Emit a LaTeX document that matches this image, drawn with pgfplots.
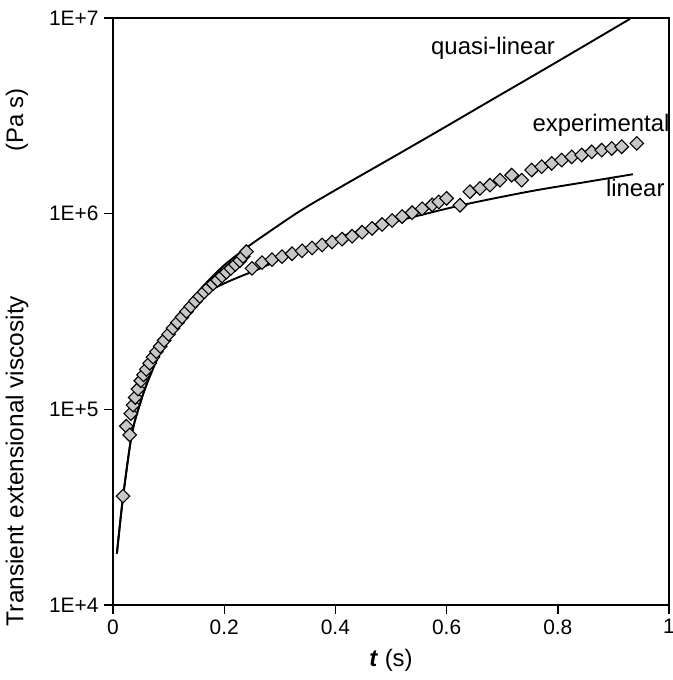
\documentclass[border=0pt]{standalone}
\usepackage{pgfplots}
\pgfplotsset{compat=1.18}
\usepackage{fontspec}
\setmainfont{Liberation Sans}
\begin{document}
\begin{tikzpicture}
\begin{axis}[
  at={(0,0)}, anchor=south west,
  scale only axis, width=556bp, height=587bp,
  xmin=0, xmax=1, ymin=1e4, ymax=1e7, ymode=log,
  axis line style={line width=1.6bp},
  xtick={0,0.2,0.4,0.6,0.8,1},
  xticklabels={0,0.2,0.4,0.6,0.8,1},
  ytick={1e4,1e5,1e6,1e7},
  yticklabels={1E+4,1E+5,1E+6,1E+7},
  yminorticks=false,
  tick align=outside, xtick pos=bottom, ytick pos=left,
  major tick length=9bp,
  tick style={line width=1.4bp, black},
  ticklabel style={font=\fontsize{21}{24}\selectfont},
  xticklabel style={yshift=-2bp},
  yticklabel style={xshift=-2bp},
  clip=true,
]
% experimental, first segment
\addplot[only marks, mark=square*, mark size=4.8bp,
  mark options={rotate=45, fill=black!22, draw=black, line width=1.1bp}]
  coordinates {
  (0.018,3.6e4) (0.024,8.2e4) (0.030,7.4e4) (0.032,9.5e4) (0.036,1.05e5)
  (0.040,1.15e5) (0.045,1.27e5) (0.050,1.40e5) (0.055,1.50e5) (0.060,1.60e5)
  (0.066,1.72e5) (0.072,1.85e5) (0.078,1.97e5) (0.085,2.10e5) (0.092,2.25e5)
  (0.100,2.42e5) (0.108,2.60e5) (0.116,2.78e5) (0.124,2.96e5) (0.132,3.16e5)
  (0.140,3.36e5) (0.148,3.57e5) (0.156,3.78e5) (0.164,3.98e5) (0.172,4.18e5)
  (0.180,4.38e5) (0.188,4.58e5) (0.196,4.80e5) (0.204,5.02e5) (0.212,5.25e5)
  (0.220,5.50e5) (0.228,5.75e5) (0.234,6.05e5) (0.240,6.40e5)
  };
% experimental, second segment
\addplot[only marks, mark=square*, mark size=4.8bp,
  mark options={rotate=45, fill=black!22, draw=black, line width=1.1bp}]
  coordinates {
  (0.250,5.25e5) (0.268,5.62e5) (0.286,5.82e5) (0.304,6.03e5) (0.322,6.24e5)
  (0.340,6.46e5) (0.358,6.68e5) (0.376,6.92e5) (0.394,7.16e5) (0.412,7.41e5)
  (0.430,7.67e5) (0.448,8.04e5) (0.466,8.41e5) (0.484,8.81e5) (0.502,9.23e5)
  (0.520,9.66e5) (0.538,1.012e6) (0.556,1.059e6) (0.574,1.109e6) (0.586,1.148e6)
  (0.600,1.197e6) (0.624,1.104e6) (0.642,1.294e6) (0.660,1.346e6) (0.678,1.400e6)
  (0.696,1.483e6) (0.717,1.574e6) (0.735,1.483e6) (0.753,1.671e6) (0.771,1.738e6)
  (0.789,1.807e6) (0.807,1.879e6) (0.825,1.950e6) (0.843,1.995e6) (0.861,2.070e6)
  (0.879,2.113e6) (0.897,2.153e6) (0.915,2.198e6) (0.942,2.286e6)
  };
% linear
\addplot[black, line width=1.9bp, smooth] coordinates {
  (0.007,1.83e4) (0.018,3.55e4) (0.034,7.5e4) (0.050,1.10e5) (0.063,1.40e5)
  (0.085,1.95e5) (0.106,2.50e5) (0.125,3.02e5) (0.147,3.55e5) (0.170,3.98e5)
  (0.200,4.40e5) (0.228,4.76e5) (0.268,5.30e5) (0.336,6.50e5) (0.426,7.90e5)
  (0.500,9.00e5) (0.624,1.10e6) (0.750,1.30e6) (0.850,1.45e6) (0.935,1.59e6)
  };
% quasi-linear
\addplot[black, line width=1.9bp, smooth] coordinates {
  (0.007,1.83e4) (0.018,3.55e4) (0.034,7.5e4) (0.050,1.10e5) (0.063,1.40e5)
  (0.085,1.98e5) (0.106,2.55e5) (0.125,3.15e5) (0.147,3.80e5) (0.170,4.50e5)
  (0.200,5.45e5) (0.237,6.60e5) (0.273,7.80e5) (0.336,1.03e6) (0.400,1.32e6)
  (0.511,2.00e6) (0.600,2.80e6) (0.673,3.70e6) (0.800,6.00e6) (0.930,9.90e6)
  };
\end{axis}
\node[font=\fontsize{24}{28}\selectfont] at (380bp,557bp) {quasi-linear};
\node[font=\fontsize{24}{28}\selectfont, anchor=east] at (560bp,480bp) {experimental};
\node[font=\fontsize{24}{28}\selectfont, anchor=east] at (555bp,417bp) {linear};
\node[font=\fontsize{24}{28}\selectfont] at (278bp,-55bp) {\textbf{\textit{t}} (s)};
\node[font=\fontsize{24.5}{28}\selectfont, rotate=90] at (-96bp,144bp) {Transient extensional viscosity};
\node[font=\fontsize{24}{28}\selectfont, rotate=90] at (-96bp,485bp) {(Pa s)};
\pgfresetboundingbox
\path (-113bp,-75bp) rectangle (560bp,605bp);
\end{tikzpicture}
\end{document}
